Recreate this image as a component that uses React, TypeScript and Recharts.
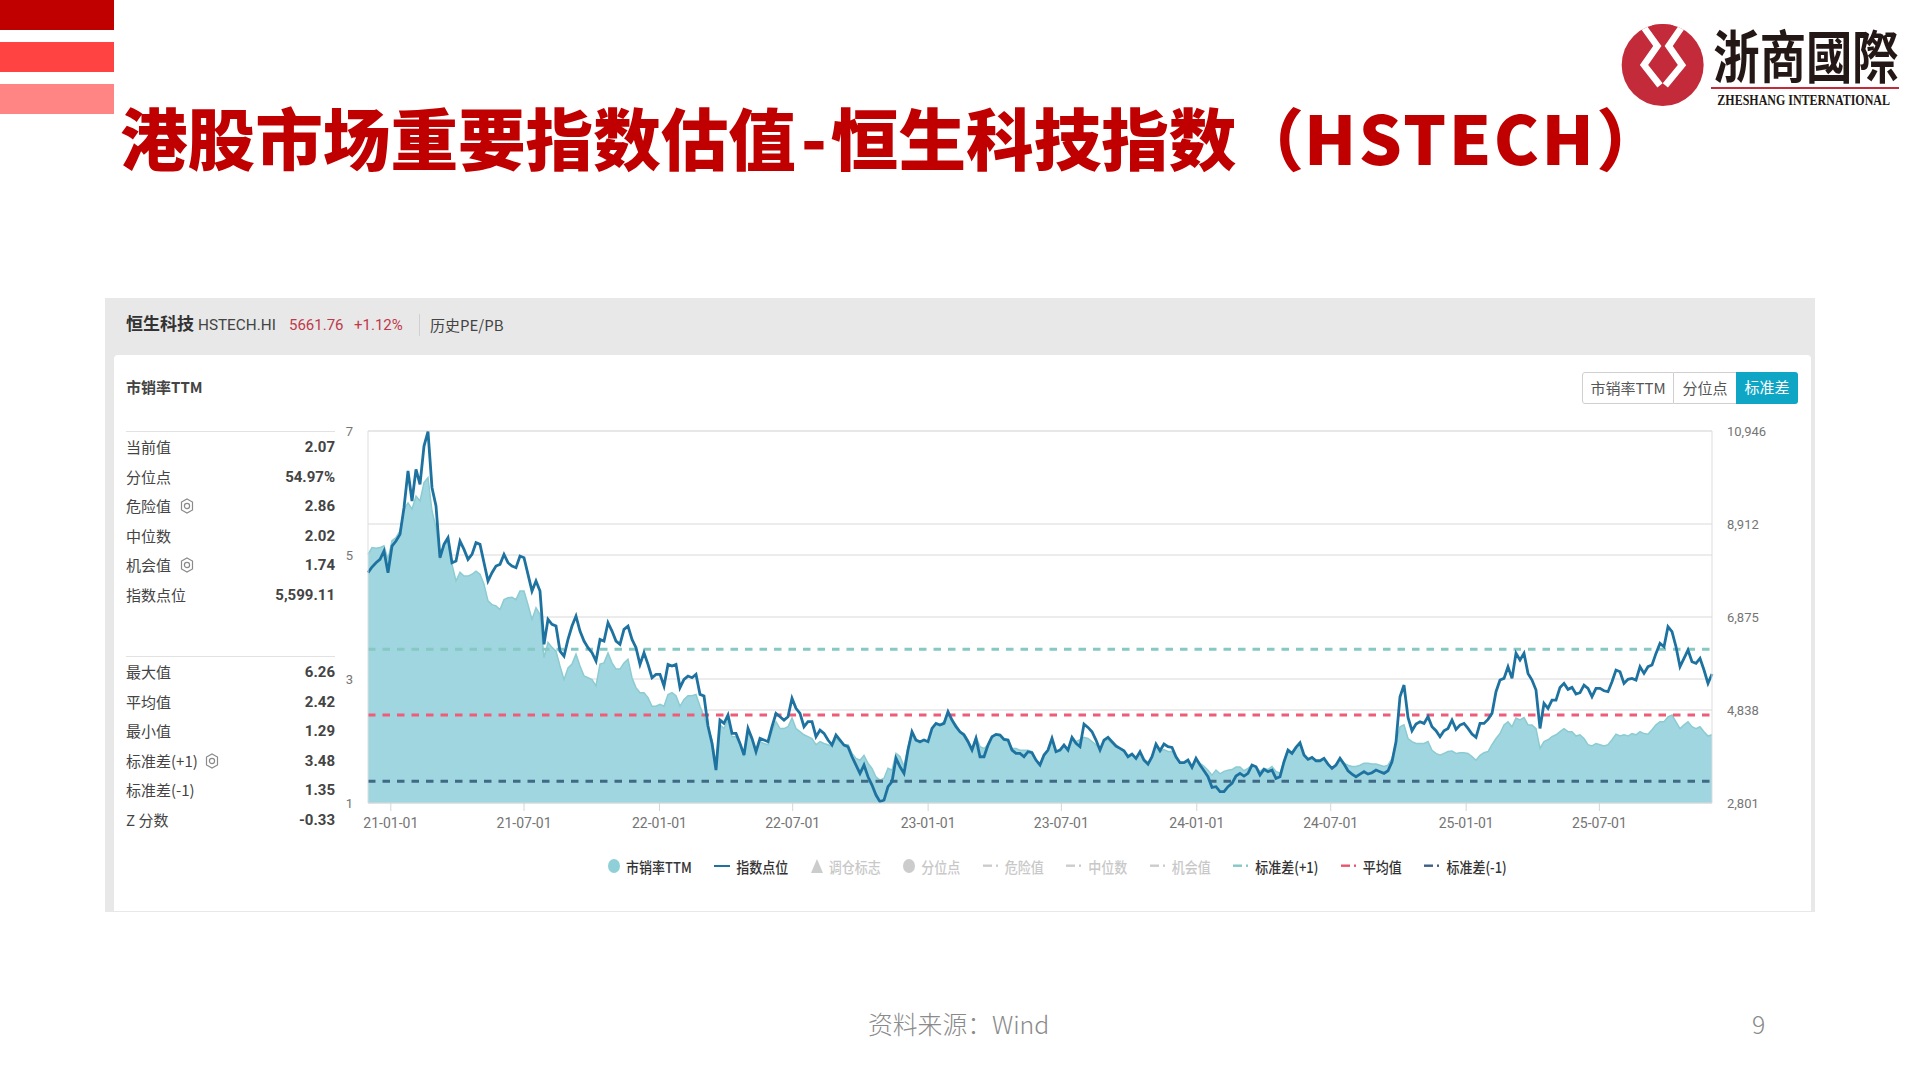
import React from "react";
import {
  ComposedChart,
  Area,
  Line,
  XAxis,
  YAxis,
  CartesianGrid,
  ReferenceLine,
} from "recharts";

const tickLabels = ["21-01-01", "21-07-01", "22-01-01", "22-07-01", "23-01-01", "23-07-01", "24-01-01", "24-07-01", "25-01-01", "25-07-01"];
const leftTicks = [1, 3, 5, 7];
const rightTicks = [2801, 4838, 6875, 8912, 10946];

const stdPlus = 3.48;
const meanValue = 2.42;
const stdMinus = 1.35;

const indexPoints = [
  7844, 7968, 8062, 8135, 8318, 7844, 8427, 8537, 8683, 9267, 10070, 9413, 10106, 9778, 10617, 10931,
  9705, 9303, 8172, 8464, 8610, 8062, 8099, 8537, 8354, 8135, 8245, 8500, 8464, 8062, 7661, 7844,
  7990, 8026, 8245, 8062, 7990, 7953, 8208, 8172, 7807, 7442, 7661, 7442, 6274, 6821, 6712, 6675,
  6128, 6019, 6383, 6675, 6894, 6566, 6347, 6201, 6091, 5909, 6383, 6347, 6749, 6566, 6347, 6274,
  6602, 6675, 6383, 6201, 5836, 6091, 5836, 5544, 5617, 5617, 5362, 5836, 5800, 5836, 5325, 5507,
  5580, 5544, 5617, 5179, 5143, 4486,
  4106, 3522, 4617, 4544, 4727, 4325, 4325, 4106, 3851, 4435, 4216, 3924, 4216, 4179, 4143, 4471,
  4763, 4690, 4617, 4690, 5092, 4873, 4763, 4471, 4581, 4581, 4252, 4398, 4325, 4179, 4070, 4289,
  4179, 4070, 4033, 3814, 3632, 3449, 3632, 3376, 3194, 2975, 2829, 2865, 3157, 3267, 3778, 3595,
  3449, 3960, 4361, 4179, 4143, 4179, 4143, 4435, 4544, 4508, 4544, 4800, 4617, 4471, 4361, 4289,
  4143, 3960, 4216, 3814, 3814, 4070, 4252, 4303, 4289, 4194, 4179, 3960, 3887, 3887, 3814, 3924,
  3902, 3741, 3632,
  3851, 3960, 4216, 3924, 3960, 4070, 3960, 4237, 4106, 4033, 4529, 4456, 4362, 4179, 3960, 4179,
  4237, 4143, 4048, 3997, 3945, 3814, 3872, 3778, 3924, 3741, 3653, 3814, 4091, 3945, 4091, 4033,
  4018, 3814, 3683, 3683, 3741, 3580, 3778, 3632, 3507, 3376, 3142, 3157, 3048, 3048, 3157, 3230,
  3391, 3449, 3391, 3449, 3632, 3595, 3412, 3537, 3486, 3522, 3340, 3376, 3705, 3960, 3887, 4018,
  4121, 3851, 3756, 3799, 3726, 3726, 3778, 3653, 3558, 3632, 3778, 3653, 3507, 3434, 3376, 3434,
  3486, 3434,
  3464, 3522, 3486, 3449, 3507, 3704, 4142, 5128, 5383, 4675, 4383, 4529, 4580, 4544, 4690, 4471,
  4383, 4252, 4383, 4434, 4617, 4413, 4507, 4544, 4434, 4310, 4237, 4544, 4544, 4632, 4763, 5238,
  5493, 5530, 5785, 5530, 6077, 5931, 6077, 5639, 5493, 5274, 4434, 4982, 4873, 5055, 5055, 5332,
  5420, 5289, 5332, 5186, 5216, 5383, 5310, 5128, 5310, 5310, 5259, 5238, 5456, 5712, 5675, 5420,
  5508, 5530, 5493, 5785, 5639, 5785, 5822, 6077, 6296, 6223, 6661, 6551, 6223, 5785, 5968, 6150,
  5894, 5858, 5968, 5712, 5420, 5624,
];

const psTtm = [
  5.01, 5.12, 5.11, 5.12, 5.15, 4.93, 5.23, 5.28, 5.39, 5.74, 5.84, 5.74, 5.95, 5.87, 6.17, 6.25,
  5.71, 5.44, 4.93, 5.15, 5.23, 4.85, 4.58, 4.72, 4.66, 4.66, 4.69, 4.74, 4.69, 4.53, 4.26, 4.2,
  4.18, 4.12, 4.28, 4.31, 4.32, 4.28, 4.42, 4.42, 4.2, 3.96, 4.15, 4.04, 3.34, 3.59, 3.51, 3.45,
  3.21, 2.99, 3.18, 3.24, 3.4, 3.21, 3.05, 3.02, 2.99, 2.89, 3.24, 3.26, 3.42, 3.26, 3.16, 3.16,
  3.26, 3.32, 3.02, 2.86, 2.78, 2.78, 2.7, 2.56, 2.56, 2.59, 2.56, 2.75, 2.78, 2.73, 2.56, 2.67,
  2.73, 2.73, 2.75, 2.56, 2.4, 2.21,
  2.02, 1.64, 2.26, 2.2, 2.34, 2.07, 2.07, 1.94, 1.75, 2.18, 2.02, 1.8, 1.99, 1.96, 1.94, 2.15,
  2.31, 2.2, 2.2, 2.23, 2.37, 2.2, 2.15, 2.1, 2.07, 2.04, 1.94, 1.99, 1.96, 1.94, 1.91, 2.04,
  1.99, 1.94, 1.94, 1.8, 1.72, 1.69, 1.77, 1.64, 1.56, 1.42, 1.37, 1.4, 1.56, 1.53, 1.8, 1.75,
  1.59, 1.91, 2.15, 2.02, 1.96, 2.02, 1.99, 2.2, 2.28, 2.26, 2.31, 2.47, 2.34, 2.26, 2.15, 2.12,
  2.02, 1.88, 2.07, 1.91, 1.88, 1.94, 2.07, 2.11, 2.1, 2.04, 2.02, 1.88, 1.88, 1.85, 1.85, 1.85,
  1.83, 1.69, 1.64,
  1.77, 1.86, 2.04, 1.83, 1.86, 1.94, 1.86, 2.06, 1.99, 2.02, 2.06, 2.04, 1.99, 1.94, 1.86, 1.99,
  2.02, 1.96, 1.92, 1.88, 1.84, 1.75, 1.79, 1.72, 1.83, 1.69, 1.63, 1.75, 1.91, 1.83, 1.86, 1.83,
  1.83, 1.72, 1.65, 1.65, 1.69, 1.58, 1.72, 1.64, 1.59, 1.53, 1.45, 1.53, 1.47, 1.51, 1.53, 1.54,
  1.58, 1.58, 1.52, 1.56, 1.61, 1.59, 1.51, 1.56, 1.54, 1.59, 1.51, 1.48, 1.67, 1.86, 1.8, 1.9,
  1.97, 1.77, 1.7, 1.74, 1.68, 1.68, 1.72, 1.63, 1.56, 1.61, 1.72, 1.64, 1.61, 1.59, 1.59, 1.61,
  1.64, 1.64,
  1.63, 1.63, 1.61, 1.59, 1.61, 1.72, 1.96, 2.23, 2.26, 2.04, 1.99, 1.96, 1.96, 1.96, 1.99, 1.85,
  1.8, 1.77, 1.8, 1.83, 1.84, 1.8, 1.81, 1.81, 1.8, 1.75, 1.69, 1.77, 1.81, 1.83, 1.94, 2.04,
  2.12, 2.26, 2.31, 2.23, 2.37, 2.34, 2.38, 2.26, 2.26, 2.2, 1.88, 1.99, 2.02, 2.07, 2.1, 2.15,
  2.2, 2.15, 2.15, 2.08, 2.1, 2.04, 1.94, 1.92, 1.96, 1.94, 1.92, 1.94, 2.02, 2.11, 2.08, 2.1,
  2.08, 2.12, 2.1, 2.15, 2.12, 2.11, 2.18, 2.26, 2.31, 2.31, 2.39, 2.42, 2.31, 2.2, 2.26, 2.31,
  2.23, 2.2, 2.23, 2.15, 2.08, 2.1,
];

const firstDay = Date.UTC(2020, 11, 1);
const lastDay = Date.UTC(2025, 11, 1);

const toStamp = (label: string) => {
  const [y, m, d] = label.split("-").map(Number);
  return Date.UTC(2000 + y, m - 1, d);
};

const chartData = psTtm.map((ps, i) => ({
  date: firstDay + (i * (lastDay - firstDay)) / (psTtm.length - 1),
  ps,
  index: indexPoints[i],
}));

const statsTop = [
  ["当前值", "2.07", false],
  ["分位点", "54.97%", false],
  ["危险值", "2.86", true],
  ["中位数", "2.02", false],
  ["机会值", "1.74", true],
  ["指数点位", "5,599.11", false],
] as const;

const statsBottom = [
  ["最大值", "6.26", false],
  ["平均值", "2.42", false],
  ["最小值", "1.29", false],
  ["标准差(+1)", "3.48", true],
  ["标准差(-1)", "1.35", false],
  ["Z 分数", "-0.33", false],
] as const;

const legendItems = [
  ["市销率TTM", "circle", "#8FD0D8", true],
  ["指数点位", "line", "#1E72A0", true],
  ["调仓标志", "triangle", "#CCCCCC", false],
  ["分位点", "circle", "#CCCCCC", false],
  ["危险值", "dash", "#CCCCCC", false],
  ["中位数", "dash", "#CCCCCC", false],
  ["机会值", "dash", "#CCCCCC", false],
  ["标准差(+1)", "dash", "#86C8C3", true],
  ["平均值", "dash", "#E8566E", true],
  ["标准差(-1)", "dash", "#3F5F85", true],
] as const;

const cjk = '"Noto Sans CJK SC", "Noto Sans", sans-serif';
const latin = 'Roboto, "Noto Sans CJK SC", sans-serif';

const box = (left: number, top: number, width: number, height: number, background: string): React.CSSProperties => ({
  position: "absolute",
  left,
  top,
  width,
  height,
  background,
});

function Gear({ left, top }: { left: number; top: number }) {
  return (
    <svg width={14} height={16} viewBox="0 0 14 16" style={{ position: "absolute", left, top }}>
      <polygon points="7,1 12.5,4 12.5,12 7,15 1.5,12 1.5,4" fill="none" stroke="#8a8a8a" strokeWidth={1.2} />
      <circle cx={7} cy={8} r={2.6} fill="none" stroke="#8a8a8a" strokeWidth={1.2} />
    </svg>
  );
}

function StatBlock({ rows, top }: { rows: typeof statsTop | typeof statsBottom; top: number }) {
  return (
    <>
      <div style={box(126, top - 16, 209, 1, "#E2E2E2")} />
      {rows.map(([name, value, gear], i) => {
        const y = top + i * 29.5;
        return (
          <div key={name}>
            <div style={{ position: "absolute", left: 126, top: y - 12, fontSize: 15, lineHeight: "24px", color: "#444", whiteSpace: "nowrap" }}>
              {name}
            </div>
            {gear && <Gear left={name.length > 3 ? 205 : 180} top={y - 8} />}
            <div style={{ position: "absolute", right: 1920 - 335, top: y - 12, fontSize: 15, lineHeight: "24px", fontWeight: 700, color: "#444", whiteSpace: "nowrap", fontFamily: latin }}>
              {value}
            </div>
          </div>
        );
      })}
    </>
  );
}

function LegendMarker({ kind, color }: { kind: string; color: string }) {
  if (kind === "circle") return <span style={{ width: 12, height: 14, borderRadius: "50%", background: color, display: "inline-block" }} />;
  if (kind === "line") return <span style={{ width: 16, height: 2.5, background: color, display: "inline-block" }} />;
  if (kind === "triangle") {
    return (
      <svg width={12} height={14} viewBox="0 0 12 14">
        <polygon points="6,0 12,14 0,14" fill={color} />
      </svg>
    );
  }
  return (
    <svg width={16} height={4} viewBox="0 0 16 4">
      <rect x={0} y={0.5} width={9} height={2.4} fill={color} />
      <rect x={13} y={0.5} width={2} height={2.4} fill={color} />
    </svg>
  );
}

function Logo() {
  return (
    <svg width={300} height={110} viewBox="0 0 900 330" style={{ position: "absolute", left: 1610, top: 10 }}>
      <defs>
        <clipPath id="logoClip">
          <circle cx={158} cy={165} r={123} />
        </clipPath>
      </defs>
      <circle cx={158} cy={165} r={123} fill="#C42B3A" />
      <g clipPath="url(#logoClip)">
        <g fill="none" stroke="#fff" strokeWidth={20} strokeLinejoin="miter">
          <polyline points="100,50 142,108 102,165 150,226" />
          <polyline points="216,50 176,108 216,165 166,226" />
        </g>
        <polygon points="118,36 198,36 158,88" fill="#C42B3A" />
        <polygon points="158,125 195,165 158,208 122,165" fill="#C42B3A" />
      </g>
      <g transform="translate(310,204) scale(1,1.22)">
        <text x={0} y={0} fontFamily='"Noto Sans CJK TC"' fontWeight={700} fontSize={139} fill="#231815">
          浙商國際
        </text>
      </g>
      <rect x={303} y={231} width={564} height={6} fill="#C42B3A" />
      <g transform="translate(322,284) scale(1,1.3)">
        <text x={0} y={0} fontFamily='"Liberation Serif"' fontWeight={700} fontSize={36} fill="#231815" letterSpacing={0}>
          ZHESHANG INTERNATIONAL
        </text>
      </g>
    </svg>
  );
}

export default function App() {
  return (
    <div style={{ position: "absolute", left: 0, top: 0, width: 1920, height: 1080, overflow: "hidden", background: "#fff", fontFamily: cjk }}>
      <div style={box(0, 0, 114, 30, "#C00000")} />
      <div style={box(0, 42, 114, 30, "#FF4343")} />
      <div style={box(0, 84, 114, 30, "#FF8585")} />

      <div style={{ position: "absolute", left: 120, top: 90, fontSize: 67.6, lineHeight: "92px", fontWeight: 900, color: "#C00000", whiteSpace: "nowrap" }}>
        港股市场重要指数估值<span style={{ marginLeft: 5, letterSpacing: 4 }}>-</span>恒生科技指数（<span style={{ letterSpacing: 2.5 }}>HSTECH</span>）
      </div>
      <Logo />

      <div style={box(105, 298, 1710, 614, "#E8E8E8")} />
      <div style={{ ...box(114, 355, 1697, 556, "#fff"), borderRadius: "4px 4px 0 0" }} />

      <div style={{ position: "absolute", left: 126, top: 310, fontSize: 17, lineHeight: "26px", fontWeight: 700, color: "#333", whiteSpace: "nowrap" }}>恒生科技</div>
      <div style={{ position: "absolute", left: 198, top: 313, fontSize: 15.3, lineHeight: "24px", color: "#444", fontFamily: latin, whiteSpace: "nowrap" }}>HSTECH.HI</div>
      <div style={{ position: "absolute", left: 289, top: 313, fontSize: 15, lineHeight: "24px", color: "#C0394B", fontFamily: latin, whiteSpace: "nowrap" }}>5661.76</div>
      <div style={{ position: "absolute", left: 354, top: 313, fontSize: 15, lineHeight: "24px", color: "#C0394B", fontFamily: latin, whiteSpace: "nowrap" }}>+1.12%</div>
      <div style={box(419, 314, 1, 22, "#D0D0D0")} />
      <div style={{ position: "absolute", left: 430, top: 313, fontSize: 15, lineHeight: "24px", color: "#444", whiteSpace: "nowrap" }}>历史PE/PB</div>

      <div style={{ position: "absolute", left: 126, top: 375, fontSize: 15, lineHeight: "24px", fontWeight: 700, color: "#444", whiteSpace: "nowrap" }}>市销率TTM</div>

      <div style={{ position: "absolute", left: 1582, top: 372, width: 216, height: 32, display: "flex", fontSize: 15, lineHeight: "30px", textAlign: "center", color: "#555", boxSizing: "border-box" }}>
        <div style={{ width: 92, border: "1px solid #CFCFCF", borderRadius: "3px 0 0 3px", boxSizing: "border-box" }}>市销率TTM</div>
        <div style={{ width: 62, borderTop: "1px solid #CFCFCF", borderBottom: "1px solid #CFCFCF", boxSizing: "border-box" }}>分位点</div>
        <div style={{ width: 62, background: "#0FA6C6", color: "#fff", borderRadius: "0 3px 3px 0" }}>标准差</div>
      </div>

      <StatBlock rows={statsTop} top={447} />
      <StatBlock rows={statsBottom} top={672} />

      <div style={{ position: "absolute", left: 300, top: 400 }}>
        <ComposedChart width={1500} height={450} data={chartData} margin={{ top: 31, right: 0, bottom: 0, left: 0 }}>
          <CartesianGrid yAxisId="left" vertical={false} stroke="#E6E6E6" strokeWidth={1.5} />
          <CartesianGrid yAxisId="right" vertical={false} stroke="#E6E6E6" strokeWidth={1.5} />
          <XAxis
            dataKey="date"
            type="number"
            domain={[firstDay, lastDay]}
            ticks={tickLabels.map(toStamp)}
            tickFormatter={(v: number) => tickLabels.find((l) => toStamp(l) === v) ?? ""}
            height={47}
            tick={{ fontSize: 14, fill: "#757575", fontFamily: latin }}
            tickSize={8}
            tickMargin={7}
            tickLine={{ stroke: "#D5D5D5" }}
            axisLine={{ stroke: "#DDDDDD" }}
          />
          <YAxis
            yAxisId="left"
            orientation="left"
            width={68}
            domain={[1, 7]}
            ticks={leftTicks}
            allowDataOverflow
            tick={{ fontSize: 13, fill: "#757575", fontFamily: latin }}
            tickSize={0}
            tickMargin={15}
            tickLine={false}
            axisLine={{ stroke: "#DDDDDD" }}
          />
          <YAxis
            yAxisId="right"
            orientation="right"
            width={88}
            domain={[2801, 10946]}
            ticks={rightTicks}
            allowDataOverflow
            tickFormatter={(v: number) => v.toLocaleString("en-US")}
            tick={{ fontSize: 13, fill: "#757575", fontFamily: latin }}
            tickSize={0}
            tickMargin={15}
            tickLine={false}
            axisLine={{ stroke: "#DDDDDD" }}
          />
          <Area
            yAxisId="left"
            type="linear"
            dataKey="ps"
            stroke="#8CCBD2"
            strokeWidth={1.5}
            fill="#A0D6E0"
            fillOpacity={1}
            dot={false}
            activeDot={false}
            isAnimationActive={false}
          />
          <ReferenceLine yAxisId="left" y={stdPlus} stroke="#86C8C3" strokeWidth={3} strokeDasharray="7.5 7" />
          <ReferenceLine yAxisId="left" y={meanValue} stroke="#EE5C78" strokeWidth={3} strokeDasharray="7.5 7" />
          <ReferenceLine yAxisId="left" y={stdMinus} stroke="#3F6A85" strokeWidth={3} strokeDasharray="7.5 7" />
          <Line
            yAxisId="right"
            type="linear"
            dataKey="index"
            stroke="#1E72A0"
            strokeWidth={2.8}
            dot={false}
            activeDot={false}
            isAnimationActive={false}
          />
        </ComposedChart>
      </div>

      <div style={{ position: "absolute", left: 608, top: 854, height: 24, display: "flex", alignItems: "center", gap: 22.5, fontSize: 13, fontWeight: 500, whiteSpace: "nowrap" }}>
        {legendItems.map(([name, kind, color, active]) => (
          <div key={name} style={{ display: "flex", alignItems: "center", gap: 6, color: active ? "#333" : "#C8C8C8" }}>
            <LegendMarker kind={kind} color={color} />
            <span style={{ display: "inline-block", transform: "scaleY(1.15)" }}>{name}</span>
          </div>
        ))}
      </div>

      <div style={{ position: "absolute", left: 868, top: 1005, fontSize: 24.8, lineHeight: "36px", fontWeight: 300, color: "#8A8A8A", whiteSpace: "nowrap" }}>资料来源：Wind</div>
      <div style={{ position: "absolute", left: 1752, top: 1005, fontSize: 24.8, lineHeight: "36px", fontWeight: 300, color: "#8A8A8A" }}>9</div>
    </div>
  );
}
